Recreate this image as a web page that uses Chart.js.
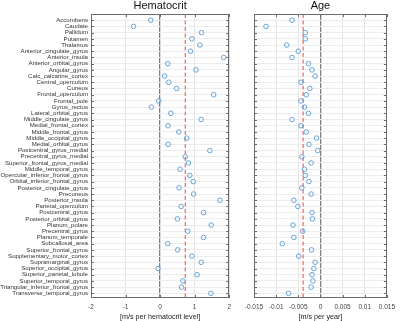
<!DOCTYPE html>
<html>
<head>
<meta charset="utf-8">
<script src="https://cdn.jsdelivr.net/npm/chart.js@4.4.1/dist/chart.umd.min.js"></script>
<style>
  html, body { margin: 0; padding: 0; background: #fff; }
  #wrap { position: relative; width: 400px; height: 321px; }
  #left { position: absolute; left: 0; top: 0; }
  #right { position: absolute; left: 236px; top: 0; }
</style>
</head>
<body>
<div id="wrap">
  <canvas id="left" width="236" height="321"></canvas>
  <canvas id="right" width="164" height="321"></canvas>
</div>
<script>
// Brain regions, top to bottom
const regions = [
  'Accumbens', 'Caudate', 'Pallidum', 'Putamen', 'Thalamus',
  'Anterior_cingulate_gyrus', 'Anterior_insula', 'Anterior_orbital_gyrus', 'Angular_gyrus',
  'Calc_calcarine_cortex', 'Central_operculum', 'Cuneus', 'Frontal_operculum', 'Frontal_pole',
  'Gyrus_rectus', 'Lateral_orbital_gyrus', 'Middle_cingulate_gyrus', 'Medial_frontal_cortex',
  'Middle_frontal_gyrus', 'Middle_occipital_gyrus', 'Medial_orbital_gyrus',
  'Postcentral_gyrus_medial', 'Precentral_gyrus_medial', 'Superior_frontal_gyrus_medial',
  'Middle_temporal_gyrus', 'Opercular_inferior_frontal_gyrus', 'Orbital_inferior_frontal_gyrus',
  'Posterior_cingulate_gyrus', 'Precuneus', 'Posterior_insula', 'Parietal_operculum',
  'Postcentral_gyrus', 'Posterior_orbital_gyrus', 'Planum_polare', 'Precentral_gyrus',
  'Planum_temporale', 'Subcallosal_area', 'Superior_frontal_gyrus', 'Supplementary_motor_cortex',
  'Supramarginal_gyrus', 'Superior_occipital_gyrus', 'Superior_parietal_lobule',
  'Superior_temporal_gyrus', 'Triangular_inferior_frontal_gyrus', 'Transverse_temporal_gyrus'
];

// Hematocrit effect [m/s per hematocrit level]
const hematocrit = [
  -0.27, -0.77, 1.20, 0.92, 1.15, 0.88, 1.84, 0.22, 1.04, 0.13,
  0.25, 0.48, 1.55, -0.04, -0.25, 0.31, 1.19, 0.23, 0.54, 0.77,
  0.23, 1.44, 0.73, 0.82, 0.58, 0.86, 0.96, 0.55, 0.97, 1.73,
  0.61, 1.26, 0.50, 1.48, 0.80, 1.26, 0.22, 0.51, 0.92, 1.19,
  -0.06, 1.07, 0.66, 0.62, 1.47
];
const hematocritMean = 0.73;

// Age effect [m/s per year]
const age = [
  -0.0064, -0.0123, -0.0034, -0.0034, -0.0076, -0.0050, -0.0064, -0.0027, -0.0019, -0.0012,
  -0.0044, -0.0024, -0.0032, -0.0044, -0.0036, -0.0027, -0.0064, -0.0044, -0.0032, -0.0009,
  -0.0026, -0.0006, -0.0042, -0.0021, -0.0036, -0.0034, -0.0026, -0.0042, -0.0021, -0.0060,
  -0.0051, -0.0019, -0.0018, -0.0062, -0.0040, -0.0060, -0.0086, -0.0020, -0.0049, -0.0012,
  -0.0015, -0.0019, -0.0017, -0.0021, -0.0072
];
const ageMean = -0.0039;

const hematocritTicks = { min: -2, max: 2, step: 1 };
const ageTicks = { min: -0.015, max: 0.015, step: 0.005 };

const font = "'Liberation Sans', Arial, sans-serif";
const Y_MAX = 45.75;

// box around the plot with small inward tick marks (matlab look)
const framePlugin = {
  id: 'frame',
  afterDraw(chart) {
    const { ctx, chartArea: a } = chart;
    const x = chart.scales.x, y = chart.scales.y;
    ctx.save();
    ctx.strokeStyle = '#6b6b6b';
    ctx.lineWidth = 1;
    ctx.strokeRect(Math.round(a.left) + 0.5, Math.round(a.top) + 0.5,
      Math.round(a.right - a.left) - 1, Math.round(a.bottom - a.top) - 1);
    ctx.beginPath();
    y.ticks.forEach(t => {
      const py = Math.round(y.getPixelForValue(t.value)) + 0.5;
      ctx.moveTo(a.left, py); ctx.lineTo(a.left + 3, py);
      ctx.moveTo(a.right - 3, py); ctx.lineTo(a.right, py);
    });
    x.ticks.forEach(t => {
      const px = Math.round(x.getPixelForValue(t.value)) + 0.5;
      ctx.moveTo(px, a.top); ctx.lineTo(px, a.top + 3);
      ctx.moveTo(px, a.bottom - 3); ctx.lineTo(px, a.bottom);
    });
    ctx.stroke();
    ctx.restore();
  }
};

function makePanel(canvasId, title, values, mean, range, xTitle, yWidth, showLabels, rightPad) {
  return new Chart(document.getElementById(canvasId).getContext('2d'), {
    type: 'scatter',
    data: {
      datasets: [
        {
          // region estimates
          data: values.map((v, i) => ({ x: v, y: i + 1 })),
          borderColor: '#66a3da',
          backgroundColor: 'rgba(0,0,0,0)',
          borderWidth: 1,
          pointRadius: 2.3,
          pointHoverRadius: 2.3,
        },
        {
          // mean line
          type: 'line',
          data: [{ x: mean, y: 0 }, { x: mean, y: Y_MAX }],
          borderColor: '#ff6b6b',
          borderWidth: 1.3,
          borderDash: [4, 2.5],
          pointRadius: 0,
          fill: false,
        },
      ],
    },
    options: {
      responsive: false,
      animation: false,
      layout: { padding: { left: 0, right: rightPad, top: 0, bottom: 0 } },
      plugins: {
        legend: { display: false },
        tooltip: { enabled: false },
        title: {
          display: true,
          text: title,
          fullSize: false,
          color: '#111',
          font: { family: font, size: 11, weight: 'normal', lineHeight: 1.1 },
          padding: { top: 0, bottom: 1.9 },
        },
      },
      scales: {
        x: {
          type: 'linear',
          min: range.min,
          max: range.max,
          afterBuildTicks: s => {
            const ticks = [];
            for (let v = range.min; v <= range.max + range.step / 2; v += range.step) {
              ticks.push({ value: +v.toFixed(4) });
            }
            s.ticks = ticks;
          },
          afterFit: s => { s.height = 23; },
          border: { display: false },
          grid: {
            drawTicks: false,
            color: c => (c.tick && c.tick.value === 0 ? '#808080' : '#e3e3e3'),
            lineWidth: c => (c.tick && c.tick.value === 0 ? 1.3 : 1),
          },
          ticks: {
            color: '#444',
            padding: 5,
            maxRotation: 0,
            font: { family: font, size: 6.5 },
            callback: v => String(+v.toFixed(4)),
          },
          title: {
            display: true,
            text: xTitle,
            color: '#222',
            padding: { top: 0, bottom: 0 },
            font: { family: font, size: 7.2 },
          },
        },
        y: {
          type: 'linear',
          reverse: true,
          min: 0,
          max: Y_MAX,
          afterBuildTicks: s => { s.ticks = regions.map((_, i) => ({ value: i + 1 })); },
          afterFit: s => { s.width = yWidth; },
          border: { display: false },
          grid: { drawTicks: false, color: '#ececec', lineWidth: 1 },
          ticks: {
            display: showLabels,
            autoSkip: false,
            padding: 3,
            color: '#333',
            font: { family: font, size: 6.1 },
            callback: v => regions[v - 1],
          },
        },
      },
    },
    plugins: [framePlugin],
  });
}

makePanel('left', 'Hematocrit', hematocrit, hematocritMean, hematocritTicks,
  '[m/s per hematocrit level]', 91, true, 5);
makePanel('right', 'Age', age, ageMean, ageTicks,
  '[m/s per year]', 18, false, 7);
</script>
</body>
</html>
